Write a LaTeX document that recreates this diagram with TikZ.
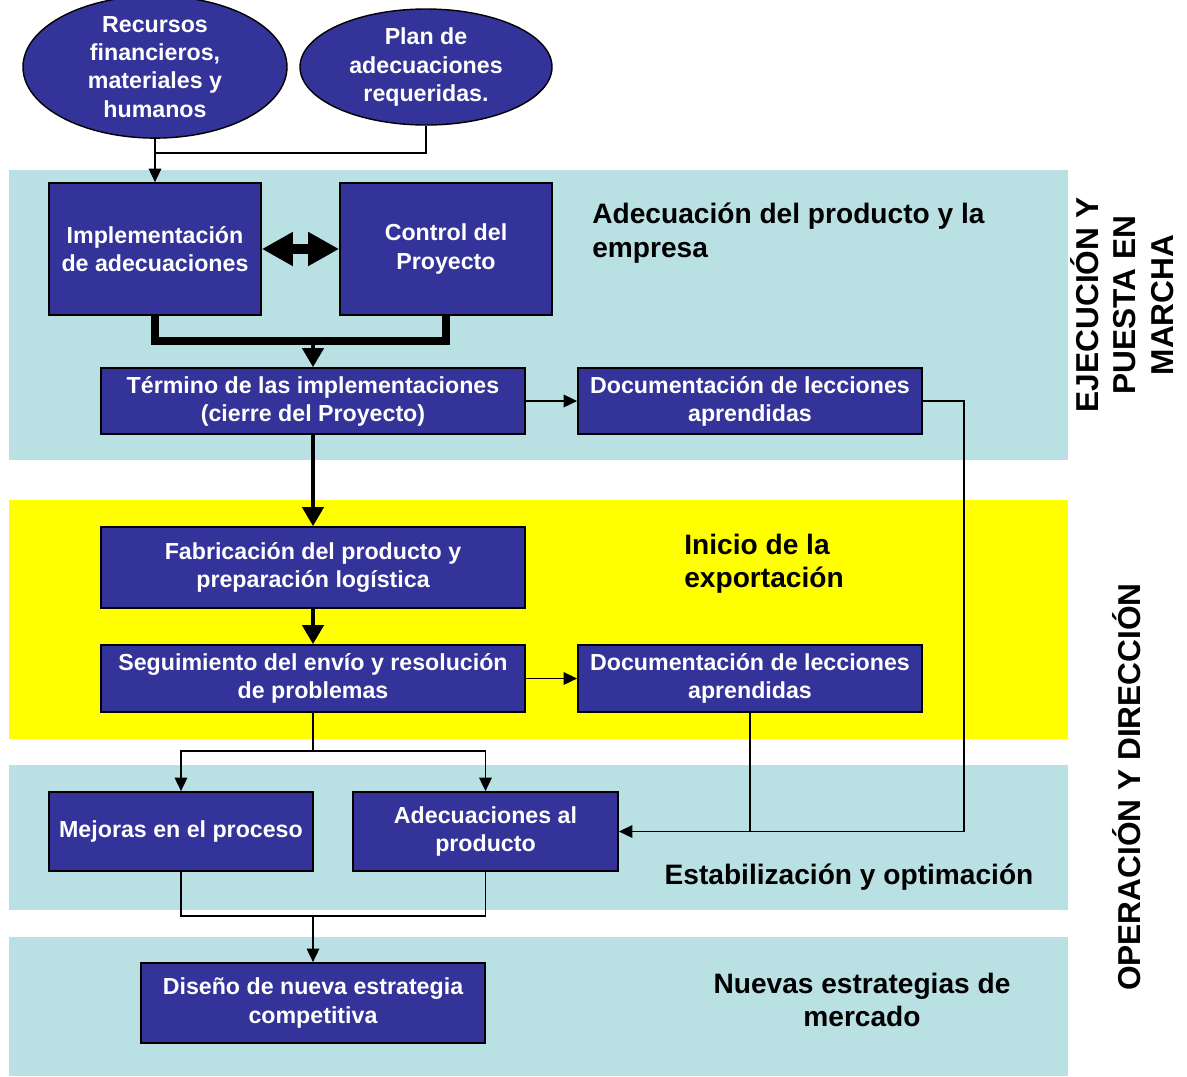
\documentclass[tikz,border=0pt]{standalone}
\usepackage{fontspec}
\setmainfont{Liberation Sans}
\usetikzlibrary{arrows.meta,shapes.geometric}

\definecolor{azul}{RGB}{51,51,153}
\definecolor{celeste}{RGB}{185,224,227}
\definecolor{amarillo}{RGB}{255,255,0}

\tikzset{
  caja/.style={draw=black, line width=1pt, fill=azul, text=white, align=center,
    font=\bfseries\fontsize{13.2}{16}\selectfont, inner sep=0pt},
  elipse/.style={ellipse, draw=black, line width=0.8pt, fill=azul, text=white, align=center,
    font=\bfseries\fontsize{13.2}{16}\selectfont, inner sep=0pt},
  titulo/.style={align=left, inner sep=0pt, font=\bfseries\fontsize{16}{19}\selectfont},
  fase/.style={rotate=90, align=center, inner sep=0pt, font=\bfseries\fontsize{18}{21.5}\selectfont},
  flecha/.style={-{Triangle[length=0.27cm,width=0.25cm]}, line width=1pt},
  gruesa/.style={-{Triangle[length=0.38cm,width=0.42cm]}, line width=2.4pt}
}

\begin{document}
\begin{tikzpicture}
  \useasboundingbox (0,0) rectangle (23.74,-21.52);

  % Franjas de fondo
  \fill[celeste] (0.18,-3.40) rectangle (21.36,-9.20);
  \fill[amarillo] (0.18,-10.00) rectangle (21.36,-14.78);
  \fill[celeste] (0.18,-15.30) rectangle (21.36,-18.20);
  \fill[celeste] (0.18,-18.74) rectangle (21.36,-21.52);

  % Entradas
  \node[elipse, minimum width=5.28cm, minimum height=2.24cm] (recursos) at (3.10,-1.34)
    {Recursos\\financieros,\\materiales y\\humanos};
  \node[elipse, minimum width=5.04cm, minimum height=2.32cm] (plan) at (8.52,-1.34)
    {Plan de\\adecuaciones\\requeridas.};

  % Cajas
  \node[caja, minimum width=4.24cm, minimum height=2.64cm] (impl) at (3.10,-4.98)
    {Implementación\\de adecuaciones};
  \node[caja, minimum width=4.24cm, minimum height=2.64cm] (control) at (8.92,-4.98)
    {Control del\\Proyecto};
  \node[caja, minimum width=8.48cm, minimum height=1.32cm] (termino) at (6.26,-8.02)
    {Término de las implementaciones\\(cierre del Proyecto)};
  \node[caja, minimum width=6.88cm, minimum height=1.32cm] (doca) at (15.00,-8.02)
    {Documentación de lecciones\\aprendidas};
  \node[caja, minimum width=8.48cm, minimum height=1.62cm] (fabrica) at (6.26,-11.35)
    {Fabricación del producto y\\preparación logística};
  \node[caja, minimum width=8.48cm, minimum height=1.34cm] (seguim) at (6.26,-13.57)
    {Seguimiento del envío y resolución\\de problemas};
  \node[caja, minimum width=6.88cm, minimum height=1.34cm] (docb) at (15.00,-13.57)
    {Documentación de lecciones\\aprendidas};
  \node[caja, minimum width=5.28cm, minimum height=1.58cm] (mejoras) at (3.62,-16.63)
    {Mejoras en el proceso};
  \node[caja, minimum width=5.30cm, minimum height=1.58cm] (adec) at (9.71,-16.63)
    {Adecuaciones al\\producto};
  \node[caja, minimum width=6.88cm, minimum height=1.60cm] (diseno) at (6.26,-20.06)
    {Diseño de nueva estrategia\\competitiva};

  % Textos de las etapas
  \node[titulo, anchor=west] (etapa1) at (11.84,-4.66) {Adecuación del producto y la\\empresa};
  \node[titulo, anchor=west] (etapa2) at (13.68,-11.28) {Inicio de la\\exportación};
  \node[titulo] (etapa3) at (16.98,-17.55) {Estabilización y optimación};
  \node[titulo, align=center] (etapa4) at (17.24,-20.00) {Nuevas estrategias de\\mercado};
  \node[fase] (fase1) at (22.44,-6.10) {EJECUCIÓN Y\\PUESTA EN\\MARCHA};
  \node[fase] (fase2) at (22.54,-15.74) {OPERACIÓN Y DIRECCIÓN};

  % Puntos de union
  \coordinate (entrada) at (3.10,-3.06);
  \coordinate (junta) at (6.26,-6.82);
  \coordinate (rama) at (6.26,-15.02);
  \coordinate (retorno) at (19.28,-16.63);
  \coordinate (cierre) at (6.26,-18.32);

  % Conectores
  \draw[flecha] (recursos.south) -- (impl.north);
  \draw[line width=1pt] (plan.south) |- (entrada);
  \draw[{Triangle[length=0.62cm,width=0.64cm]}-{Triangle[length=0.62cm,width=0.64cm]}, line width=6pt]
    (impl.east) -- (control.west);
  \draw[line width=4pt] (impl.south) |- (junta) -| (control.south);
  \draw[gruesa] (junta) -- (termino.north);
  \draw[flecha] (termino.east) -- (doca.west);
  \draw[gruesa] (termino.south) -- (fabrica.north);
  \draw[gruesa] (fabrica.south) -- (seguim.north);
  \draw[flecha] (seguim.east) -- (docb.west);
  \draw[line width=1pt] (seguim.south) -- (rama);
  \draw[flecha] (rama) -| (mejoras.north);
  \draw[flecha] (rama) -| (adec.north);
  \draw[flecha] (doca.east) -| (retorno) -- (adec.east);
  \draw[line width=1pt] (docb.south) -- (docb.south |- adec.east);
  \draw[line width=1pt] (mejoras.south) |- (cierre) -| (adec.south);
  \draw[flecha] (cierre) -- (diseno.north);
\end{tikzpicture}
\end{document}
